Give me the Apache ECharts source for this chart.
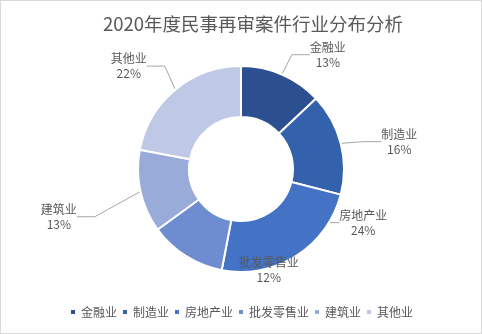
<!DOCTYPE html>
<html><head><meta charset="utf-8">
<script src="https://cdn.jsdelivr.net/npm/echarts@6/dist/echarts.min.js"></script>
<style>
html,body{margin:0;padding:0;background:#fff;}
#c{position:absolute;left:0;top:0;width:480px;height:332px;border:1px solid #d9d9d9;}
</style></head>
<body><div id="c"></div>
<script>
var titleText = '2020年度民事再审案件行业分布分析';
var categories = ['金融业','制造业','房地产业','批发零售业','建筑业','其他业'];
var values = [13, 16, 24, 12, 13, 22];
var colors = ['#2c4f8f','#3461ab','#4472c4','#6d8dd0','#98abd9','#bfc9e6'];
// label nudges (styling only), to mimic the spreadsheet's "best fit" label placement
var labelNudge = [[-1,-6],[3,2],[12,-46],[144,1],[-26,22],[4,-12]];

var chart = echarts.init(document.getElementById('c'));
chart.setOption({
  animation: false,
  color: colors,
  title: {
    text: titleText, left: 97, top: 9,
    textStyle: {fontFamily: 'Noto Sans CJK SC', fontSize: 18.5, fontWeight: 'normal', color: '#595959'}
  },
  legend: {
    bottom: 10, left: 'center',
    itemWidth: 6, itemHeight: 6, itemGap: 4, icon: 'rect',
    textStyle: {fontFamily: 'Noto Sans CJK SC', fontSize: 12, color: '#595959'},
    data: categories
  },
  series: [{
    type: 'pie',
    center: [240, 168],
    radius: [52, 103],
    startAngle: 90,
    clockwise: true,
    itemStyle: {borderColor: '#fff', borderWidth: 2},
    label: {
      show: true, position: 'outside',
      formatter: '{b}\n{d}%',
      fontFamily: 'Noto Sans CJK SC', fontSize: 12, color: '#595959', lineHeight: 15,
      align: 'center'
    },
    labelLine: {show: true, length: 15, length2: 18, lineStyle: {color: '#a6a6a6', width: 1}},
    labelLayout: function (p) {
      var n = labelNudge[p.dataIndex];
      var r = p.labelRect;
      return {
        x: r.x + r.width / 2 + n[0],
        y: r.y + n[1],
        align: 'center',
        verticalAlign: 'top'
      };
    },
    emphasis: {disabled: true},
    data: categories.map(function(c, i){ return {name: c, value: values[i]}; })
  }]
});
</script></body></html>
